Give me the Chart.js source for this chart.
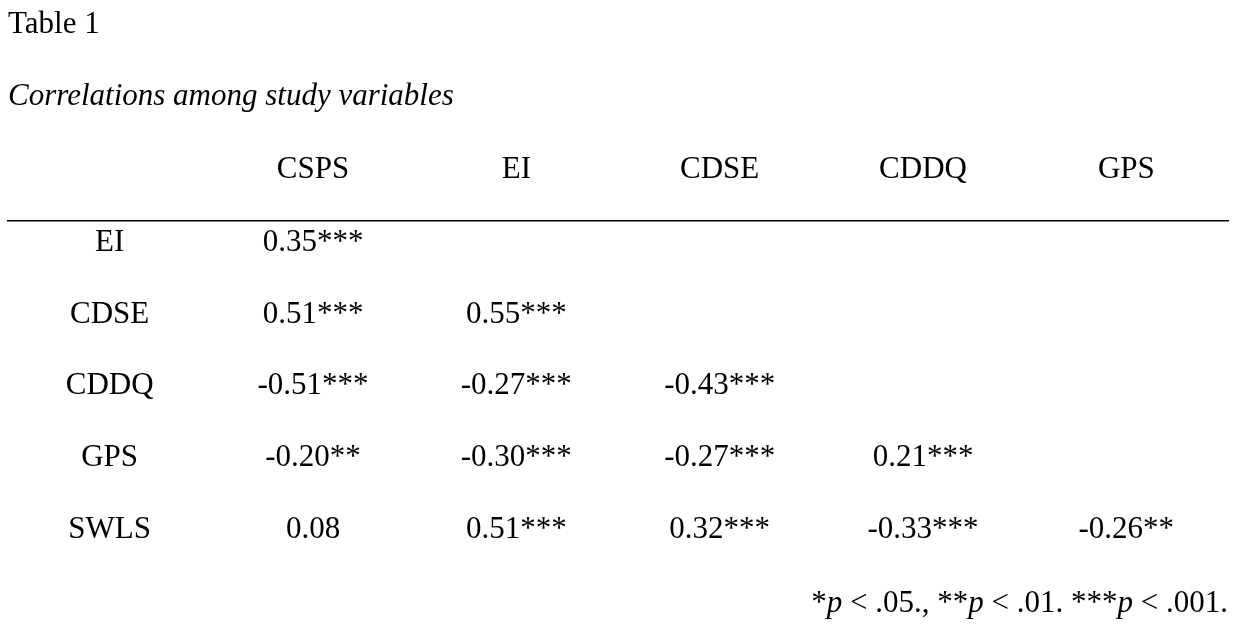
<!doctype html>
<html>
<head>
    <title>Table 1</title>
    <script src="https://cdn.jsdelivr.net/npm/chart.js@4/dist/chart.umd.min.js"></script>
    <style>
        html, body{
            margin: 0px;
            background: #fff;
        }
        #container{
            width: 1246px;
            height: 628px;
        }
    </style>
</head>
<body>
    <div id="container">
        <canvas id="canvas"></canvas>
    </div>
    <script>
        var FONT = "'Liberation Serif', 'Times New Roman', serif";
        var SIZE = 31;

        var colNames = ['CSPS', 'EI', 'CDSE', 'CDDQ', 'GPS'];
        var rowNames = ['EI', 'CDSE', 'CDDQ', 'GPS', 'SWLS'];

        // correlations by column, top row first (null = empty cell)
        var rCSPS = [0.35, 0.51, -0.51, -0.20, 0.08];
        var rEI   = [null, 0.55, -0.27, -0.30, 0.51];
        var rCDSE = [null, null, -0.43, -0.27, 0.32];
        var rCDDQ = [null, null, null, 0.21, -0.33];
        var rGPS  = [null, null, null, null, -0.26];

        var sigCSPS = ['***', '***', '***', '**', ''];
        var sigEI   = ['', '***', '***', '***', '***'];
        var sigCDSE = ['', '', '***', '***', '***'];
        var sigCDDQ = ['', '', '', '***', '***'];
        var sigGPS  = ['', '', '', '', '**'];

        var columns = [rCSPS, rEI, rCDSE, rCDDQ, rGPS];
        var stars = [sigCSPS, sigEI, sigCDSE, sigCDDQ, sigGPS];

        function buildDatasets(){
            var sets = [];
            for(var c = 0; c < columns.length; ++c){
                var pts = [];
                for(var i = 0; i < columns[c].length; ++i){
                    if(columns[c][i] === null) continue;
                    pts.push({
                        x: c + 1,
                        y: i + 1,
                        text: columns[c][i].toFixed(2) + stars[c][i]
                    });
                }
                sets.push({ label: colNames[c], data: pts, pointRadius: 0, pointHoverRadius: 0 });
            }
            return sets;
        }

        var cellText = {
            id: 'cellText',
            afterDatasetsDraw: function(chart){
                var ctx = chart.ctx;
                var xs = chart.scales.x, ys = chart.scales.y;
                ctx.save();
                ctx.fillStyle = '#000';
                ctx.font = SIZE + 'px ' + FONT;
                ctx.textAlign = 'center';
                ctx.textBaseline = 'middle';

                // row labels sit in the first column
                for(var i = 0; i < rowNames.length; ++i){
                    ctx.fillText(rowNames[i], xs.getPixelForValue(0), ys.getPixelForValue(i + 1));
                }

                chart.data.datasets.forEach(function(ds, d){
                    var meta = chart.getDatasetMeta(d);
                    meta.data.forEach(function(el, j){
                        ctx.fillText(ds.data[j].text, el.x, el.y);
                    });
                });

                // footnote, right aligned, italic p
                var parts = [
                    ['*', false], ['p', true], [' < .05., **', false], ['p', true],
                    [' < .01. ***', false], ['p', true], [' < .001.', false]
                ];
                ctx.textAlign = 'left';
                var total = 0;
                parts.forEach(function(p){
                    ctx.font = (p[1] ? 'italic ' : '') + SIZE + 'px ' + FONT;
                    p.push(ctx.measureText(p[0]).width);
                    total += p[2];
                });
                var x = chart.chartArea.right - total;
                var y = ys.getPixelForValue(6.02);
                parts.forEach(function(p){
                    ctx.font = (p[1] ? 'italic ' : '') + SIZE + 'px ' + FONT;
                    ctx.fillText(p[0], x, y);
                    x += p[2];
                });
                ctx.restore();
            }
        };

        window.onload = function(){
            var ctx = document.getElementById('canvas').getContext('2d');
            window.myTable = new Chart(ctx, {
                type: 'scatter',
                data: { datasets: buildDatasets() },
                plugins: [cellText],
                options: {
                    responsive: true,
                    maintainAspectRatio: false,
                    animation: false,
                    events: [],
                    layout: { padding: { left: 8, right: 18, top: 0, bottom: 8 } },
                    plugins: {
                        legend: { display: false },
                        tooltip: { enabled: false },
                        title: {
                            display: true,
                            text: 'Table 1',
                            align: 'start',
                            color: '#000',
                            font: { family: FONT, size: SIZE, weight: 'normal' },
                            padding: { top: 6, bottom: 0 }
                        },
                        subtitle: {
                            display: true,
                            text: 'Correlations among study variables',
                            align: 'start',
                            color: '#000',
                            font: { family: FONT, size: SIZE, style: 'italic', weight: 'normal' },
                            padding: { top: 35, bottom: 4 }
                        }
                    },
                    scales: {
                        x: {
                            type: 'linear',
                            position: 'top',
                            min: -0.5,
                            max: 5.5,
                            afterBuildTicks: function(axis){
                                axis.ticks = [0, 1, 2, 3, 4, 5].map(function(v){ return { value: v }; });
                            },
                            grid: { display: false, drawTicks: false },
                            border: { display: true, color: '#000', width: 1.5 },
                            ticks: {
                                color: '#000',
                                padding: 32,
                                maxRotation: 0,
                                font: { family: FONT, size: SIZE },
                                callback: function(v){ return v === 0 ? '' : colNames[v - 1]; }
                            }
                        },
                        y: {
                            type: 'linear',
                            display: false,
                            reverse: true,
                            min: 0.6944,
                            max: 6.25
                        }
                    }
                }
            });
        };
    </script>
</body>
</html>
